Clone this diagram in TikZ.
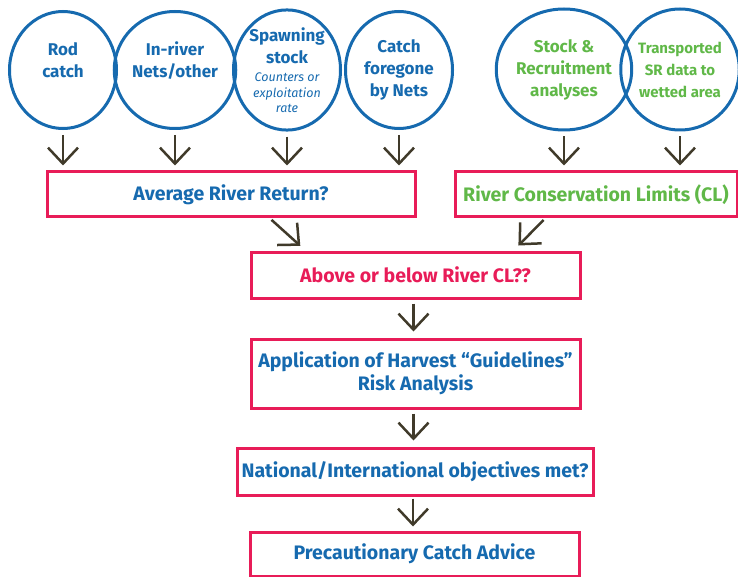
\documentclass[tikz,border=0pt]{standalone}
\usepackage{fontspec}
\setmainfont{Fira Sans}
\usetikzlibrary{arrows.meta}
\usetikzlibrary{shapes.geometric}
\usetikzlibrary{positioning}
\definecolor{riverblue}{RGB}{22,106,175}
\definecolor{boxpink}{RGB}{232,28,88}
\definecolor{clgreen}{RGB}{96,184,72}
\definecolor{arrowbrown}{RGB}{64,58,42}
\newcommand{\smallit}[1]{{\mdseries\itshape\fontsize{12.5}{14}\selectfont #1}}

\begin{document}
\begin{tikzpicture}[x=1pt,y=-1pt,node distance=112pt,
    src/.style={ellipse,draw=riverblue,line width=3pt,minimum width=107pt,minimum height=117pt,inner sep=0pt,align=center,font=\bfseries\fontsize{17}{22}\selectfont},
    bx/.style={rectangle,draw=boxpink,line width=3pt,inner sep=0pt,align=center,font=\bfseries\fontsize{19.5}{23}\selectfont,text=riverblue},
    arr/.style={-{Straight Barb[length=16pt,width=30pt]},draw=arrowbrown,line width=2.5pt}]
      \useasboundingbox (0,0) rectangle (738,577);
      % data sources
      \node[src,text=riverblue,text depth=20pt] (rod) at (63,70) {Rod\\catch};
      \node[src,text=riverblue,text depth=20pt] (inriver) [right of=rod] {In-river\\Nets/other};
      \node[src,text=riverblue] (spawn) [right of=inriver] {Spawning\\stock\\[-4pt]\smallit{Counters or}\\[-6pt]\smallit{exploitation}\\[-7pt]\smallit{rate}};
      \node[src,text=riverblue] (foregone) [right of=spawn] {Catch\\foregone\\by Nets};
      \node[src,text=clgreen,minimum width=109pt,minimum height=121pt] (sr) at (564,69.5) {Stock \&\\Recruitment\\analyses};
      \node[src,text=clgreen,minimum width=111pt,minimum height=121pt,font=\bfseries\fontsize{15}{22}\selectfont] (transp) [right of=sr,node distance=116pt] {Transported\\SR data to\\wetted area};
      % boxes
      \node[bx,minimum width=368pt,minimum height=45pt] (avg) at (231,194.5) {Average River Return?};
      \node[bx,minimum width=282pt,minimum height=45pt,text=clgreen] (cl) at (596,194.5) {River Conservation Limits (CL)};
      \node[bx,minimum width=329pt,minimum height=46pt,text=boxpink] (above) at (415.5,275) {Above or below River CL??};
      \node[bx,minimum width=329pt,minimum height=69pt] (appl) at (415.5,373.5) {Application of Harvest “Guidelines”\\Risk Analysis};
      \node[bx,minimum width=356pt,minimum height=47pt] (natl) at (415,471.5) {National/International objectives met?};
      \node[bx,minimum width=329pt,minimum height=44pt] (advice) at (414.5,554) {Precautionary Catch Advice};
      % arrows
      \foreach \s/\t in {rod/avg,inriver/avg,spawn/avg,foregone/avg,sr/cl,transp/cl}
        \draw[arr,shorten <=5pt,shorten >=5pt] (\s.south) -- (\s.south |- \t.north);
      \draw[arr,shorten <=2pt,shorten >=7pt] ([xshift=39pt]avg.south) -- ([xshift=-110pt]above.north);
      \draw[arr,shorten <=2pt,shorten >=7pt] ([xshift=-51pt]cl.south) -- ([xshift=98pt]above.north);
      \draw[arr,shorten <=4pt,shorten >=6pt] ([xshift=-2pt]above.south) -- ([xshift=-2pt]appl.north);
      \draw[arr,shorten <=4pt,shorten >=6pt] ([xshift=-2pt]appl.south) -- ([xshift=-2pt]appl.south |- natl.north);
      \draw[arr,shorten <=2pt,shorten >=4pt] ([xshift=-2pt]natl.south) -- ([xshift=-2pt]natl.south |- advice.north);
    \end{tikzpicture}
\end{document}
